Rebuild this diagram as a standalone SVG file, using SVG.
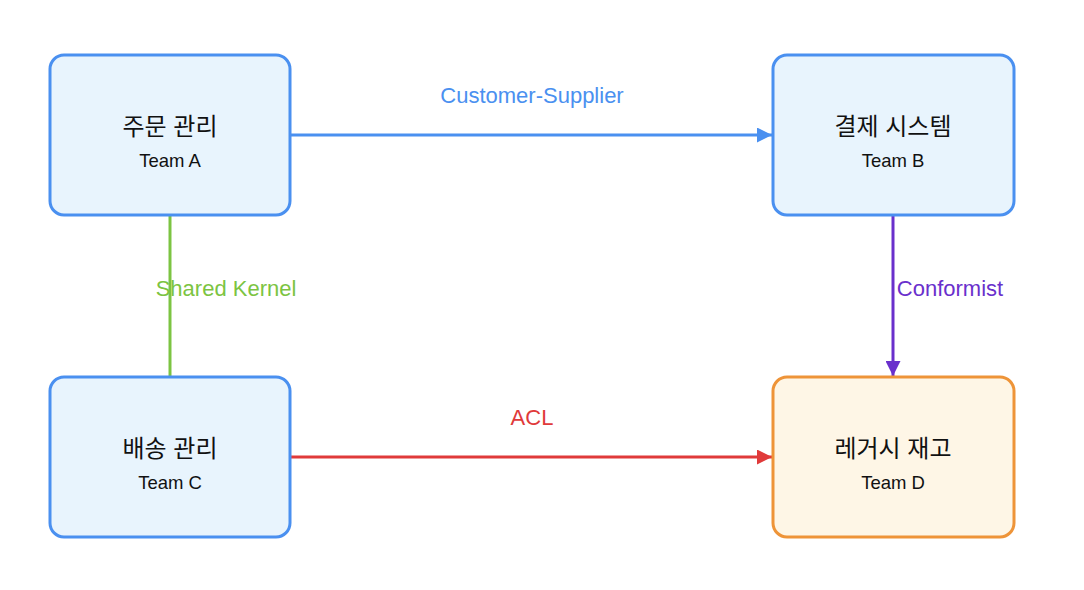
<svg xmlns="http://www.w3.org/2000/svg" width="1084" height="590" viewBox="0 0 1084 590">
<defs>
<style>
.box{fill:#e8f4fd;stroke:#4a90f0;stroke-width:3}
.legacy{fill:#fef6e6;stroke:#ee9438;stroke-width:3}
.t{font-family:"Liberation Sans","Noto Sans CJK KR",sans-serif;font-size:24px;fill:#111;text-anchor:middle}
.s{font-family:"Liberation Sans",sans-serif;font-size:18.5px;fill:#111;text-anchor:middle}
.l{font-family:"Liberation Sans",sans-serif;font-size:22px;text-anchor:middle}
</style>
<marker id="ab" viewBox="0 0 10 10" refX="10" refY="5" markerWidth="5" markerHeight="5" markerUnits="strokeWidth" orient="auto"><path d="M0,0L10,5L0,10z" fill="#4a90f0"/></marker>
<marker id="ap" viewBox="0 0 10 10" refX="10" refY="5" markerWidth="5" markerHeight="5" markerUnits="strokeWidth" orient="auto"><path d="M0,0L10,5L0,10z" fill="#6a30cc"/></marker>
<marker id="ar" viewBox="0 0 10 10" refX="10" refY="5" markerWidth="5" markerHeight="5" markerUnits="strokeWidth" orient="auto"><path d="M0,0L10,5L0,10z" fill="#e03a3a"/></marker>
</defs>
<rect width="1084" height="590" fill="#fff"/>
<g id="connectors">
<line x1="291" y1="135" x2="772" y2="135" stroke="#4a90f0" stroke-width="3" marker-end="url(#ab)"/>
<text class="l" x="532" y="103" fill="#4a90f0">Customer-Supplier</text>
<line x1="893" y1="216" x2="893" y2="376" stroke="#6a30cc" stroke-width="3" marker-end="url(#ap)"/>
<text class="l" x="950" y="296" fill="#6a30cc">Conformist</text>
<line x1="170" y1="216" x2="170" y2="376" stroke="#7cc442" stroke-width="3"/>
<text class="l" x="226" y="296" fill="#7cc442">Shared Kernel</text>
<line x1="291" y1="457" x2="772" y2="457" stroke="#e03a3a" stroke-width="3" marker-end="url(#ar)"/>
<text class="l" x="532" y="425" fill="#e03a3a">ACL</text>
</g>
<g id="teamA">
<rect class="box" x="50" y="55" width="240" height="160" rx="14"/>
<text class="t" x="170" y="135">주문 관리</text>
<text class="s" x="170" y="167">Team A</text>
</g>
<g id="teamB">
<rect class="box" x="773" y="55" width="241" height="160" rx="14"/>
<text class="t" x="893" y="135">결제 시스템</text>
<text class="s" x="893" y="167">Team B</text>
</g>
<g id="teamC">
<rect class="box" x="50" y="377" width="240" height="160" rx="14"/>
<text class="t" x="170" y="457">배송 관리</text>
<text class="s" x="170" y="489">Team C</text>
</g>
<g id="teamD">
<rect class="legacy" x="773" y="377" width="241" height="160" rx="14"/>
<text class="t" x="893" y="457">레거시 재고</text>
<text class="s" x="893" y="489">Team D</text>
</g>
</svg>
